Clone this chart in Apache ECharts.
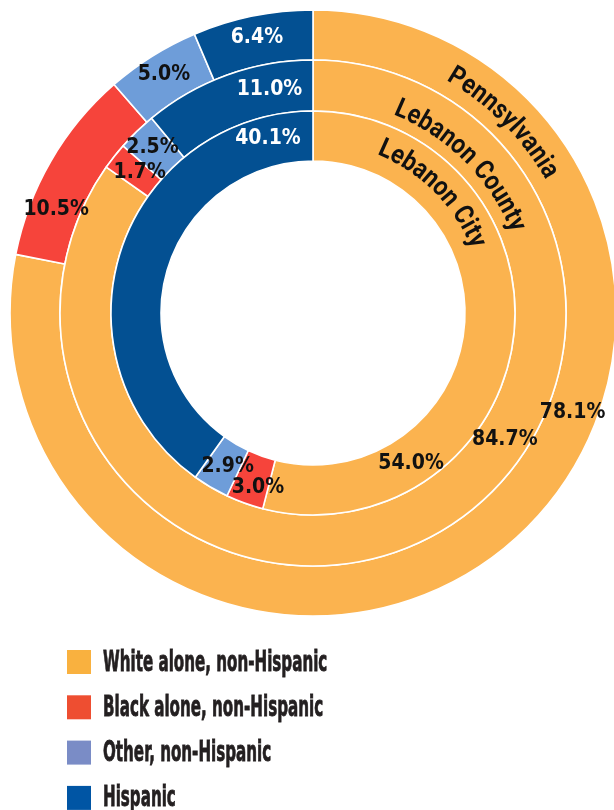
<!DOCTYPE html>
<html>
<head>
<meta charset="utf-8">
<script src="https://cdn.jsdelivr.net/npm/echarts@6/dist/echarts.min.js"></script>
<style>
  html, body { margin: 0; padding: 0; background: #fff; }
  #chart { width: 614px; height: 810px; }
</style>
</head>
<body>
<div id="chart"></div>
<script>
// Race / ethnicity shares (%), clockwise from 12 o'clock
const categories = ['White alone, non-Hispanic', 'Black alone, non-Hispanic', 'Other, non-Hispanic', 'Hispanic'];
const ringNames = ['Pennsylvania', 'Lebanon County', 'Lebanon City'];
const pennsylvania = [78.1, 10.5, 5.0, 6.4];
const lebanonCounty = [84.7, 1.7, 2.5, 11.0];
const lebanonCity = [54.0, 3.0, 2.9, 40.1];

const sliceColors = ['#FBB34F', '#F6443B', '#6E9DD9', '#035092'];
const legendColors = ['#F9B13F', '#EE4E31', '#7A8CC6', '#0055A4'];
const labelColors = ['#111', '#111', '#111', '#fff'];

const CX = 313, CY = 313;
const rings = [
  { values: pennsylvania, radius: [253, 303] },
  { values: lebanonCounty, radius: [202, 253] },
  { values: lebanonCity, radius: [152, 202] }
];

// Hand-placed label spots [angle clockwise from north (deg), distance from centre]
const labelSpots = [
  [[111, 278], [292, 277], null, null],
  [[123.5, 230], [309, 223], null, [349, 228]],
  [[147, 180], [197.5, 183], [209, 176], [345.5, 180]]
];

const condensed = '"DejaVu Sans Condensed", "Liberation Sans Narrow", sans-serif';

function polar(angleDeg, r) {
  const a = angleDeg * Math.PI / 180;
  return { x: CX + r * Math.sin(a), y: CY - r * Math.cos(a) };
}

const series = rings.map((ring, si) => ({
  type: 'pie',
  center: [CX, CY],
  radius: ring.radius,
  startAngle: 90,
  clockwise: true,
  silent: true,
  animation: false,
  itemStyle: { borderColor: '#fff', borderWidth: 1.6 },
  label: {
    show: true,
    position: 'inside',
    fontFamily: condensed,
    fontWeight: 'bold',
    fontSize: 21,
    formatter: p => p.value.toFixed(1) + '%'
  },
  labelLine: { show: false },
  labelLayout: params => {
    const spot = labelSpots[si][params.dataIndex];
    if (!spot) return {};
    const p = polar(spot[0], spot[1]);
    return { x: p.x, y: p.y, align: 'center', verticalAlign: 'middle' };
  },
  data: ring.values.map((v, i) => ({
    name: categories[i],
    value: v,
    itemStyle: { color: sliceColors[i] },
    label: { color: labelColors[i] }
  }))
}));

// Ring names set along the arcs, one glyph at a time
const arcSize = 27, arcSquash = 0.86, arcTrack = 0.6;
const arcFamily = 'Roboto, "DejaVu Sans", sans-serif';
const measureCtx = document.createElement('canvas').getContext('2d');
measureCtx.font = 'bold ' + arcSize + 'px ' + arcFamily;
const arcTitles = [
  { text: ringNames[0], r: 275, mid: 45 },
  { text: ringNames[1], r: 221, mid: 45 },
  { text: ringNames[2], r: 178, mid: 45 }
];
const graphics = [];
arcTitles.forEach(t => {
  const chars = Array.from(t.text);
  const widths = chars.map(c => measureCtx.measureText(c).width * arcSquash + arcTrack);
  const total = widths.reduce((a, b) => a + b, 0);
  let s = t.mid * Math.PI / 180 - total / 2 / t.r;
  chars.forEach((c, i) => {
    const theta = s + widths[i] / 2 / t.r;
    s += widths[i] / t.r;
    graphics.push({
      type: 'text',
      z: 100,
      x: CX + t.r * Math.sin(theta),
      y: CY - t.r * Math.cos(theta),
      rotation: -theta,
      scaleX: arcSquash,
      silent: true,
      style: {
        text: c,
        fontFamily: arcFamily,
        fontWeight: 'bold',
        fontSize: arcSize,
        fill: '#111',
        align: 'center',
        verticalAlign: 'middle'
      }
    });
  });
});

// Key: colour swatch and narrow caption for each category
const keyLeft = 67, keyTop = 650, keyStep = 45.3, swatch = 24;
categories.forEach((c, i) => {
  const y = keyTop + i * keyStep;
  graphics.push({
    type: 'rect',
    z: 100,
    silent: true,
    shape: { x: keyLeft, y: y, width: swatch, height: swatch },
    style: { fill: legendColors[i] }
  });
  graphics.push({
    type: 'text',
    z: 100,
    silent: true,
    x: keyLeft + swatch + 12,
    y: y + swatch / 2 + 1,
    scaleX: 0.58,
    style: {
      text: c,
      fontFamily: condensed,
      fontWeight: 'bold',
      fontSize: 29,
      fill: '#231F20',
      stroke: '#231F20',
      lineWidth: 0.8,
      align: 'left',
      verticalAlign: 'middle'
    }
  });
});

const chart = echarts.init(document.getElementById('chart'), null, { renderer: 'canvas' });
chart.setOption({
  backgroundColor: '#fff',
  animation: false,
  series: series,
  graphic: graphics
});
</script>
</body>
</html>
